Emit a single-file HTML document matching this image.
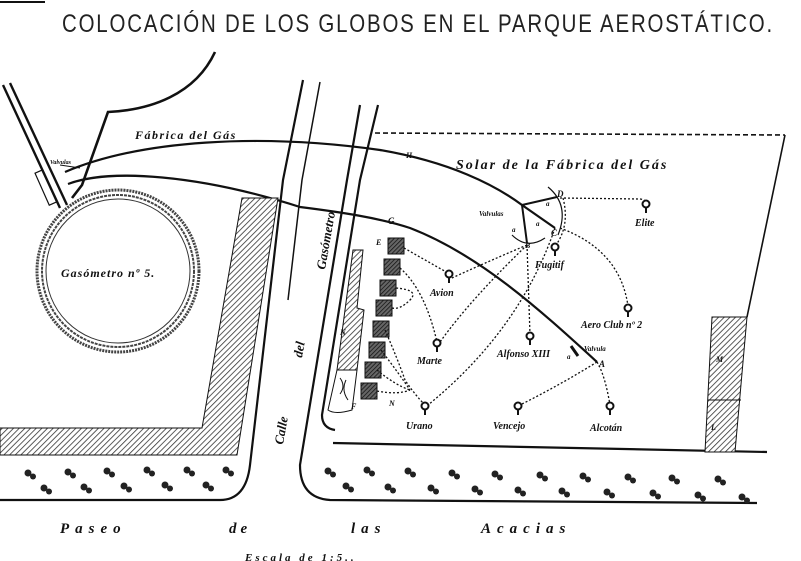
<!DOCTYPE html>
<html><head><meta charset="utf-8"><style>
html,body{margin:0;padding:0;background:#fff}
svg{display:block}
.t{font-family:"Liberation Serif",serif;font-style:italic;font-weight:bold;fill:#111}
</style></head><body>
<svg width="801" height="561" viewBox="0 0 801 561" xmlns="http://www.w3.org/2000/svg">
<defs>
<pattern id="h" width="4" height="4" patternUnits="userSpaceOnUse" patternTransform="rotate(45)">
<rect width="4" height="4" fill="#fff"/><line x1="0" y1="0" x2="0" y2="4" stroke="#333" stroke-width="1.6"/></pattern>
<pattern id="hd" width="3" height="3" patternUnits="userSpaceOnUse" patternTransform="rotate(45)">
<rect width="3" height="3" fill="#666"/><line x1="0" y1="0" x2="0" y2="3" stroke="#111" stroke-width="1.5"/></pattern>
<g id="b"><circle cx="0" cy="-4" r="3.5" fill="#fff" stroke="#111" stroke-width="2"/><line x1="0" y1="0" x2="0" y2="5" stroke="#111" stroke-width="2"/></g>
<g id="tr"><circle cx="0" cy="0" r="3.5" fill="#222"/><circle cx="5" cy="3.5" r="3" fill="#222"/></g>
</defs>
<g fill="none" stroke="#111">
<line x1="0" y1="2" x2="45" y2="2" stroke-width="2"/>
<text x="62" y="32" style="font-family:'Liberation Sans',sans-serif;font-size:25px;letter-spacing:2.2px;fill:#222;stroke:none" textLength="712" lengthAdjust="spacingAndGlyphs">COLOCACIÓN DE LOS GLOBOS EN EL PARQUE AEROSTÁTICO.</text>
<!-- top-left -->
<line x1="3" y1="85" x2="60" y2="208" stroke-width="2.4"/>
<line x1="10" y1="83" x2="67" y2="205" stroke-width="2.4"/>
<rect x="42" y="170" width="8" height="35" transform="rotate(-24 46 188)" stroke-width="1.2"/>
<path d="M215 52 C195 95 150 110 108 112 L82 185 L72 198" stroke-width="2.6"/>
<path d="M60 165 L80 168" stroke-width="1"/>
<text x="50" y="164" class="t" style="font-size:6px;stroke:none">Valvulas</text>
<!-- gasometro -->
<circle cx="118" cy="271" r="81" stroke="#444" stroke-width="3" stroke-dasharray="2 1"/>
<circle cx="118" cy="271" r="76" stroke="#444" stroke-width="2" stroke-dasharray="3 1"/>
<circle cx="118" cy="271" r="72" stroke="#333" stroke-width="1"/>
<!-- pipes -->
<path d="M65 172 C140 140 260 133 380 150 C450 162 495 185 522 205 L555 228" stroke-width="2.2"/>
<path d="M68 184 C110 168 200 175 300 207 C340 212 380 218 410 228 C480 255 540 310 597 362" stroke-width="2.2"/>
<!-- hatched blocks -->
<path d="M242 198 L278 198 L237 455 L0 455 L0 428 L202 428 Z" fill="url(#h)" stroke-width="1"/>
<!-- streets -->
<path d="M303 80 L283 180 L250 465 Q246 500 220 500 L0 500" stroke-width="2.2"/>
<path d="M320 82 L302 180 L288 300" stroke-width="1.5"/>
<path d="M360 105 L347 180 L300 465 Q300 498 330 500 L757 503" stroke-width="2.2"/>
<path d="M378 105 L360 180 L322 415 Q322 428 335 430" stroke-width="2.2"/>
<path d="M333 443 L767 452" stroke-width="2.2"/>
<!-- enclosure -->
<path d="M375 133 L785 135" stroke-width="1.6" stroke-dasharray="5 3"/>
<path d="M785 135 L747 317" stroke-width="1.6"/>
<path d="M712 317 L747 317 L735 452 L705 452 Z" fill="url(#h)" stroke-width="1"/>
<line x1="708" y1="400" x2="741" y2="400" stroke-width="1"/>
<!-- N block -->
<path d="M353 250 L363 250 L357 308 L364 310 L357 370 L337 370 Z" fill="url(#h)" stroke-width="1"/>
<path d="M337 370 L357 370 L352 410 Q335 415 328 410 Z" stroke-width="1"/>
<path d="M340 378 q6 8 0 16 M346 380 q-5 10 2 20" stroke-width="1"/>
<!-- sheds -->
<g fill="url(#hd)" stroke-width="1">
<rect x="388" y="238" width="16" height="16"/><rect x="384" y="259" width="16" height="16"/>
<rect x="380" y="280" width="16" height="16"/><rect x="376" y="300" width="16" height="16"/>
<rect x="373" y="321" width="16" height="16"/><rect x="369" y="342" width="16" height="16"/>
<rect x="365" y="362" width="16" height="16"/><rect x="361" y="383" width="16" height="16"/>
</g>
<!-- valve area -->
<path d="M522 205 L557 197 M522 205 L527 243" stroke-width="2"/>
<path d="M548 187 Q570 205 558 235" stroke-width="1.2"/>
<path d="M512 235 Q527 250 545 238" stroke-width="1.2"/>
<line x1="571" y1="346" x2="578" y2="356" stroke-width="3"/>
<!-- dotted connections -->
<g stroke-width="1.3" stroke-dasharray="2 2">
<path d="M560 198 L640 199 Q648 200 646 206"/>
<path d="M527 245 Q480 265 452 278"/>
<path d="M527 245 Q470 300 440 342"/>
<path d="M555 228 Q520 330 428 405"/>
<path d="M527 245 L530 335"/>
<path d="M560 228 Q620 250 628 306"/>
<path d="M563 198 Q570 225 556 245"/>
<path d="M597 362 Q560 385 520 405"/>
<path d="M597 362 Q605 375 610 405"/>
<path d="M404 248 L448 273"/>
<path d="M400 268 Q425 290 437 342"/>
<path d="M396 288 Q420 290 410 300 Q400 310 392 308"/>
<path d="M385 330 Q398 360 405 380 Q415 395 425 405"/>
<path d="M381 350 Q400 375 410 390"/>
<path d="M377 370 Q395 385 410 390"/>
<path d="M377 391 Q398 395 410 390"/>
</g>
<g><use href="#b" x="449" y="278"/><use href="#b" x="437" y="347"/><use href="#b" x="425" y="410"/>
<use href="#b" x="530" y="340"/><use href="#b" x="555" y="251"/><use href="#b" x="646" y="208"/>
<use href="#b" x="628" y="312"/><use href="#b" x="518" y="410"/><use href="#b" x="610" y="410"/></g>
<!-- trees -->
<g stroke="none">
<use href="#tr" x="28" y="473"/><use href="#tr" x="68" y="472"/><use href="#tr" x="107" y="471"/><use href="#tr" x="147" y="470"/><use href="#tr" x="187" y="470"/><use href="#tr" x="226" y="470"/>
<use href="#tr" x="44" y="488"/><use href="#tr" x="84" y="487"/><use href="#tr" x="124" y="486"/><use href="#tr" x="165" y="485"/><use href="#tr" x="206" y="485"/>
<use href="#tr" x="328" y="471"/><use href="#tr" x="367" y="470"/><use href="#tr" x="408" y="471"/><use href="#tr" x="452" y="473"/><use href="#tr" x="495" y="474"/><use href="#tr" x="540" y="475"/><use href="#tr" x="583" y="476"/><use href="#tr" x="628" y="477"/><use href="#tr" x="672" y="478"/><use href="#tr" x="718" y="479"/>
<use href="#tr" x="346" y="486"/><use href="#tr" x="388" y="487"/><use href="#tr" x="431" y="488"/><use href="#tr" x="475" y="489"/><use href="#tr" x="518" y="490"/><use href="#tr" x="562" y="491"/><use href="#tr" x="607" y="492"/><use href="#tr" x="653" y="493"/><use href="#tr" x="698" y="495"/><use href="#tr" x="742" y="497"/>
</g>
</g>
<!-- labels -->
<g class="t" style="font-size:12px">
<text x="135" y="139" style="letter-spacing:1.5px">Fábrica del Gás</text>
<text x="61" y="277" style="letter-spacing:1px">Gasómetro nº 5.</text>
<text x="456" y="169" style="font-size:14px;letter-spacing:2px">Solar de la Fábrica del Gás</text>
<text x="430" y="296" style="font-size:10px">Avion</text>
<text x="417" y="364" style="font-size:10px">Marte</text>
<text x="406" y="429" style="font-size:10px">Urano</text>
<text x="497" y="357" style="font-size:10px">Alfonso XIII</text>
<text x="535" y="268" style="font-size:10px">Fugitif</text>
<text x="635" y="226" style="font-size:10px">Elite</text>
<text x="581" y="328" style="font-size:10px">Aero Club nº 2</text>
<text x="493" y="429" style="font-size:10px">Vencejo</text>
<text x="590" y="431" style="font-size:10px">Alcotán</text>
<text x="479" y="216" style="font-size:7px">Valvulas</text>
<text x="584" y="351" style="font-size:7px">Valvula</text>
<text x="406" y="158" style="font-size:8px">H</text>
<text x="388" y="224" style="font-size:9px">G</text>
<text x="376" y="245" style="font-size:8px">E</text>
<text x="351" y="409" style="font-size:8px">F</text>
<text x="557" y="197" style="font-size:9px">D</text>
<text x="551" y="236" style="font-size:9px">C</text>
<text x="525" y="248" style="font-size:8px">B</text>
<text x="599" y="367" style="font-size:9px">A</text>
<text x="567" y="359" style="font-size:7px">a</text>
<text x="512" y="232" style="font-size:7px">a</text>
<text x="536" y="226" style="font-size:7px">a</text>
<text x="546" y="206" style="font-size:7px">a</text>
<text x="389" y="406" style="font-size:8px">N</text>
<text x="340" y="335" style="font-size:8px">N</text>
<text x="716" y="362" style="font-size:8px">M</text>
<text x="711" y="430" style="font-size:8px">L</text>
<text transform="translate(325,270) rotate(-80)" style="font-size:13px">Gasómetro</text>
<text transform="translate(302,358) rotate(-80)" style="font-size:13px">del</text>
<text transform="translate(283,445) rotate(-80)" style="font-size:13px">Calle</text>
<text x="60" y="533" style="font-size:15px;letter-spacing:6px">Paseo</text>
<text x="229" y="533" style="font-size:15px;letter-spacing:4px">de</text>
<text x="351" y="533" style="font-size:15px;letter-spacing:6px">las</text>
<text x="481" y="533" style="font-size:15px;letter-spacing:6px">Acacias</text>
<text x="245" y="561" style="font-size:11px;letter-spacing:3px">Escala de 1:5..</text>
</g>
</svg>
</body></html>
